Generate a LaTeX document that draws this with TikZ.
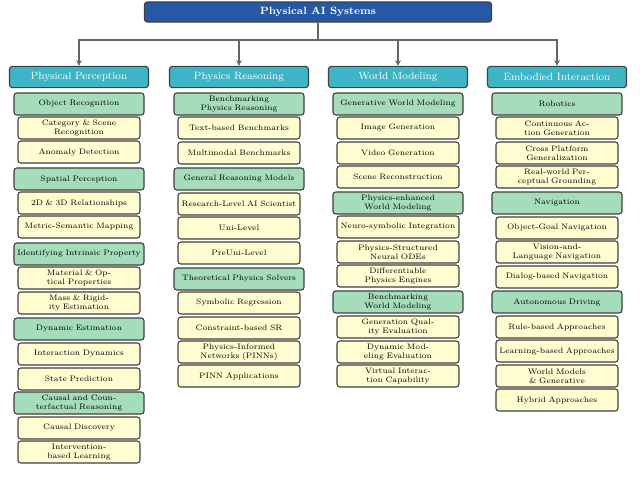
\documentclass[tikz,border=0pt]{standalone}
\usepackage{xcolor}
\usepackage{tikz}
\definecolor{rootblue}{HTML}{2559A5}
\definecolor{headteal}{HTML}{3DB5C6}
\definecolor{subgreen}{HTML}{A5DCB9}
\definecolor{leafyellow}{HTML}{FFFDCF}
\tikzset{
    box/.style={draw=black!75, thick, rounded corners=2pt, align=center, inner sep=1pt},
    rootbox/.style={box, fill=rootblue, text=white, minimum width=86.75mm, minimum height=5mm, font=\fontsize{7.5}{9}\selectfont\bfseries},
    headbox/.style={box, fill=headteal, text=white, minimum width=34.75mm, minimum height=5.3mm, font=\fontsize{7.5}{9}\selectfont},
    groupbox/.style={box, fill=subgreen, minimum width=32.5mm, minimum height=5.5mm, text width=31mm, font=\fontsize{5.6}{6.4}\selectfont},
    leafbox/.style={box, fill=leafyellow, minimum width=30.5mm, minimum height=5.5mm, text width=29mm, font=\fontsize{5.6}{6.4}\selectfont},
    link/.style={draw=black!60, thick, -stealth}
}
\begin{document}
\begin{tikzpicture}[x=0.025cm, y=-0.025cm]
    \useasboundingbox (0,0) rectangle (640,480);

    % root and bus
    \node[rootbox] (root) at (318,12) {Physical AI Systems};
    \coordinate (bus) at (318,40);

    % column headers
    \node[headbox] (hpp) at (79,77) {Physical Perception};
    \node[headbox] (hpr) at (239,77) {Physics Reasoning};
    \node[headbox] (hwm) at (398,77) {World Modeling};
    \node[headbox] (hei) at (557,77) {Embodied Interaction};

    \draw[draw=black!60, thick] (root) -- (bus);
    \draw[link] (bus) -| (hpp);
    \draw[link] (bus) -| (hpr);
    \draw[link] (bus) -| (hwm);
    \draw[link] (bus) -| (hei);

    % Physical Perception
    \foreach \n/\y/\s/\t in {
        1/104/groupbox/Object Recognition,
        2/128/leafbox/Category \& Scene Recognition,
        3/152/leafbox/Anomaly Detection,
        4/179/groupbox/Spatial Perception,
        5/203/leafbox/2D \& 3D Relationships,
        6/227/leafbox/Metric-Semantic Mapping,
        7/254/groupbox/Identifying Intrinsic Property,
        8/278/leafbox/Material \& Optical Properties,
        9/303/leafbox/Mass \& Rigidity Estimation,
        10/329/groupbox/Dynamic Estimation,
        11/354/leafbox/Interaction Dynamics,
        12/379/leafbox/State Prediction,
        13/403/groupbox/{Causal and Coun-\\terfactual Reasoning},
        14/428/leafbox/Causal Discovery,
        15/452/leafbox/Intervention-based Learning}
        \node[\s] (pp\n) at (79,\y) {\t};

    % Physics Reasoning
    \foreach \n/\y/\s/\t in {
        1/104/groupbox/Benchmarking Physics Reasoning,
        2/128/leafbox/Text-based Benchmarks,
        3/153/leafbox/Multimodal Benchmarks,
        4/179/groupbox/General Reasoning Models,
        5/204/leafbox/Research-Level AI Scientist,
        6/228/leafbox/Uni-Level,
        7/253/leafbox/PreUni-Level,
        8/279/groupbox/Theoretical Physics Solvers,
        9/303/leafbox/Symbolic Regression,
        10/328/leafbox/Constraint-based SR,
        11/352/leafbox/{Physics-Informed\\Networks (PINNs)},
        12/376/leafbox/PINN Applications}
        \node[\s] (pr\n) at (239,\y) {\t};

    % World Modeling
    \foreach \n/\y/\s/\t in {
        1/104/groupbox/Generative World Modeling,
        2/128/leafbox/Image Generation,
        3/153/leafbox/Video Generation,
        4/177/leafbox/Scene Reconstruction,
        5/203/groupbox/Physics-enhanced World Modeling,
        6/227/leafbox/Neuro-symbolic Integration,
        7/252/leafbox/Physics-Structured Neural ODEs,
        8/276/leafbox/Differentiable Physics Engines,
        9/302/groupbox/Benchmarking World Modeling,
        10/327/leafbox/Generation Quality Evaluation,
        11/352/leafbox/Dynamic Modeling Evaluation,
        12/376/leafbox/Virtual Interaction Capability}
        \node[\s] (wm\n) at (398,\y) {\t};

    % Embodied Interaction
    \foreach \n/\y/\s/\t in {
        1/104/groupbox/Robotics,
        2/128/leafbox/Continuous Action Generation,
        3/153/leafbox/Cross Platform Generalization,
        4/177/leafbox/{Real-world Per-\\ceptual Grounding},
        5/203/groupbox/Navigation,
        6/228/leafbox/Object-Goal Navigation,
        7/252/leafbox/{Vision-and-\\Language Navigation},
        8/277/leafbox/Dialog-based Navigation,
        9/302/groupbox/Autonomous Driving,
        10/327/leafbox/Rule-based Approaches,
        11/351/leafbox/Learning-based Approaches,
        12/376/leafbox/World Models \& Generative,
        13/400/leafbox/Hybrid Approaches}
        \node[\s] (ei\n) at (557,\y) {\t};
\end{tikzpicture}
\end{document}
